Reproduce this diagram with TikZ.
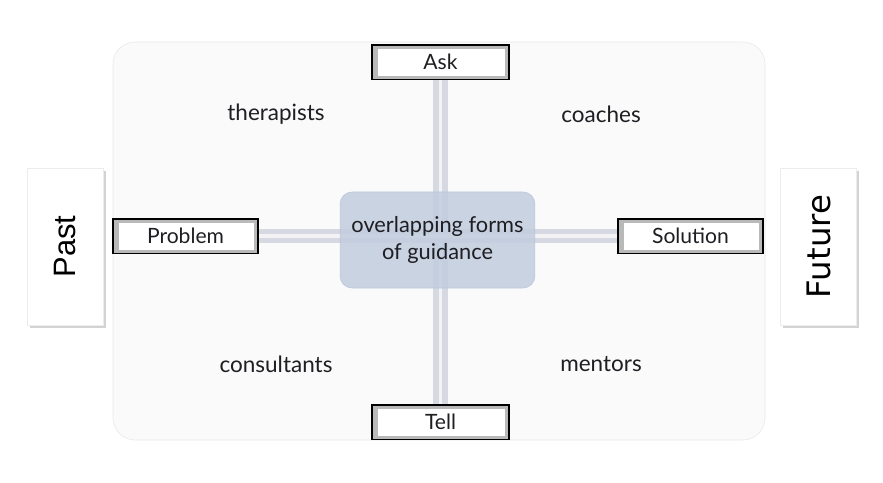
\documentclass[tikz,border=0pt]{standalone}
\usepackage{fontspec}
\setmainfont{Lato}
\newfontfamily\sidefont{Liberation Sans}
\newfontfamily\widefont{DejaVu Sans}
\usetikzlibrary{shadows}

\begin{document}
\begin{tikzpicture}[x=0.025cm,y=-0.025cm]
    \definecolor{mypanel}{RGB}{250,250,251}
    \definecolor{myedge}{RGB}{232,232,236}
    \definecolor{mybar}{RGB}{214,216,226}
    \definecolor{mycore}{RGB}{194,205,222}
    \definecolor{mycoreedge}{RGB}{184,198,220}
    \definecolor{myink}{RGB}{30,30,35}

    \tikzset{
        bevel/.style={draw=black, line width=1pt, fill=gray!55, minimum height=0.86cm,
            inner sep=0pt, font=\fontsize{15}{17}\selectfont, text=myink,
            path picture={\fill[white]
                ([shift={(4pt,-3pt)}]path picture bounding box.north west) rectangle
                ([shift={(-2.5pt,2.5pt)}]path picture bounding box.south east);}},
        sidebox/.style={draw=gray!15, fill=white, minimum width=1.9cm, minimum height=3.93cm,
            drop shadow={shadow xshift=2pt, shadow yshift=-2pt, opacity=0.35}},
        quadrant/.style={font=\fontsize{16}{18}\selectfont, text=myink},
        bar/.style={draw=mybar, line width=4pt, double=white!70!mybar, double distance=2.5pt}
    }

    \useasboundingbox (0,0) rectangle (883,482);

    % background panel
    \fill[mypanel, draw=myedge, rounded corners=0.55cm] (113,42) rectangle (765,440);

    % axes
    \node[bevel, minimum width=3.42cm] (ask) at (440.5,62) {Ask};
    \node[bevel, minimum width=3.42cm] (tell) at (440.5,422) {Tell};
    \node[bevel, minimum width=3.62cm] (problem) at (185.5,236) {Problem};
    \node[bevel, minimum width=3.62cm] (solution) at (690.5,236) {Solution};

    \draw[bar] (ask.south) -- (tell.north);
    \draw[bar] (problem.east) -- (solution.west);

    \node[draw=mycoreedge, fill=mycore, fill opacity=0.85, text opacity=1, rounded corners=0.3cm,
        minimum width=4.87cm, minimum height=2.4cm, align=center, text=myink,
        font=\fontsize{15.5}{19}\selectfont] (core) at (437.5,240) {overlapping forms\\of guidance};

    % quadrant labels
    \node[quadrant] (therapists) at (276,114) {therapists};
    \node[quadrant] (coaches) at (601,114) {coaches};
    \node[quadrant] (consultants) at (276,364) {consultants};
    \node[quadrant] (mentors) at (601,364) {mentors};

    % time boxes
    \node[sidebox] (past) at (65,246.5) {};
    \node[rotate=90, font=\sidefont\fontsize{22}{24}\selectfont] (pastlabel) at (past.center) {Past};
    \node[sidebox] (future) at (818.5,246.5) {};
    \node[rotate=90, font=\widefont\fontsize{23}{25}\selectfont] (futurelabel) at (future.center) {Future};
\end{tikzpicture}
\end{document}
